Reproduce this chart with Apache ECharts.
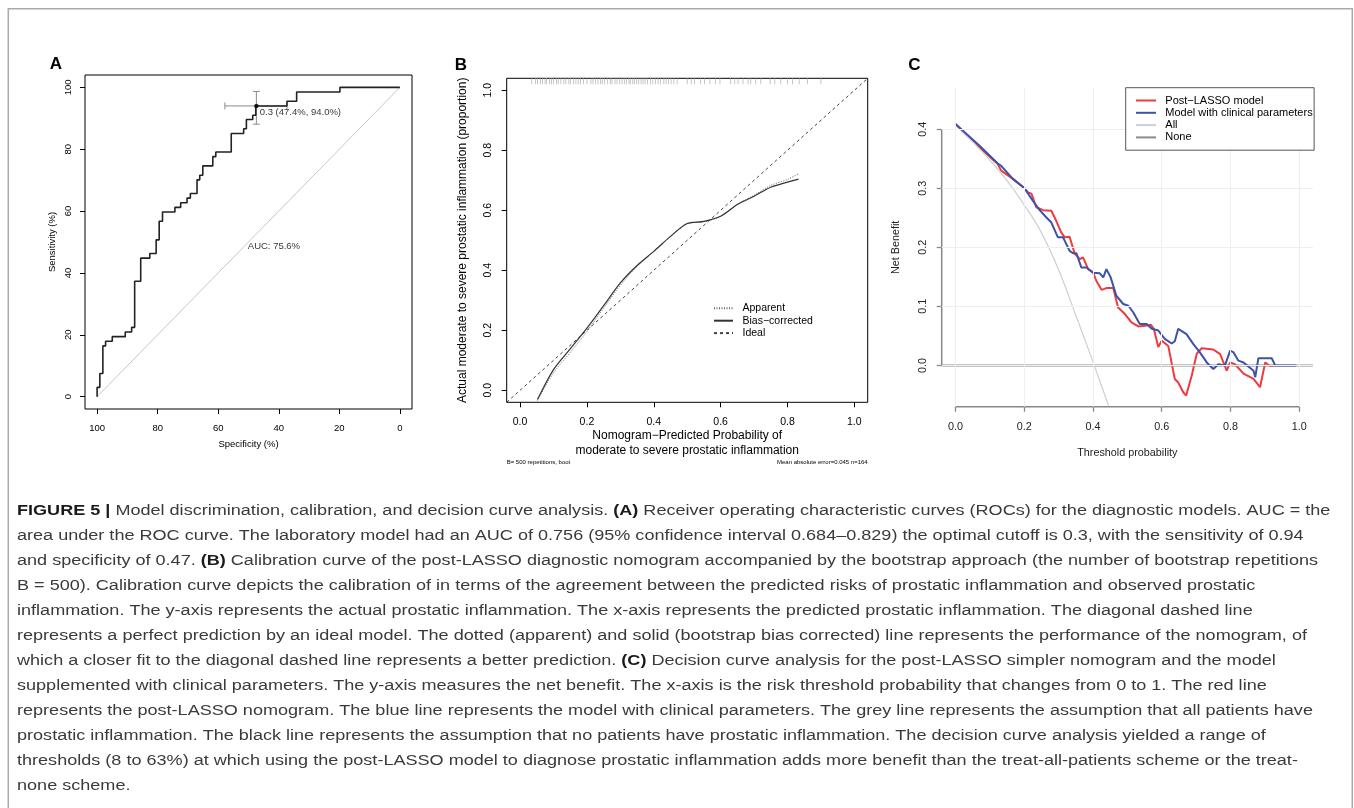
<!DOCTYPE html>
<html><head><meta charset="utf-8">
<script src="https://cdn.jsdelivr.net/npm/echarts@6.0.0/dist/echarts.min.js"></script>
<style>html,body{margin:0;padding:0;background:#fff}#c{width:1354px;height:808px}</style>
</head><body><div id="c"></div>
<script>
// ---------- Panel A: ROC ----------
var rocSpec = [100,100,99.1,99.1,98.1,98.1,97.2,97.2,95.0,95.0,90.7,90.7,88.6,88.6,87.6,87.6,85.6,85.6,82.6,82.6,80.5,80.5,79.5,79.5,78.4,78.4,74.3,74.3,72.4,72.4,70.3,70.3,69.2,69.2,67.0,67.0,66.1,66.1,65.1,65.1,61.8,61.8,60.8,60.8,55.7,55.7,51.6,51.6,50.7,50.7,48.6,48.6,47.6,47.6,37.3,37.3,34.1,34.1,19.8,19.8,0];
var rocSens = [0,3.0,3.0,7.5,7.5,16.4,16.4,17.9,17.9,19.4,19.4,20.9,20.9,22.4,22.4,37.3,37.3,44.8,44.8,46.3,46.3,50.7,50.7,56.7,56.7,59.7,59.7,61.2,61.2,62.7,62.7,64.2,64.2,65.7,65.7,70.1,70.1,71.6,71.6,74.6,74.6,77.6,77.6,79.1,79.1,85.1,85.1,86.6,86.6,89.6,89.6,91.0,91.0,94.0,94.0,95.5,95.5,98.5,98.5,100,100];
var rocDiagSpec = [100, 0];
var rocDiagSens = [0, 100];
var rocBest = {spec: 47.4, sens: 94.0, specLo: 57.8, specHi: 37.3, sensLo: 88.1, sensHi: 98.7};
var rocBestLabel = '0.3 (47.4%, 94.0%)';
var rocBestLabelPos = [46.3, 92.0];
var aucLabel = 'AUC: 75.6%';
var aucLabelPos = [41.6, 48.7];
var aTicks = [0, 20, 40, 60, 80, 100];

// ---------- Panel B: calibration ----------
var calX        = [0.052,0.1,0.15,0.2,0.25,0.3,0.35,0.4,0.45,0.5,0.55,0.6,0.65,0.7,0.75,0.8,0.833];
var calBias     = [-0.031,0.069,0.138,0.207,0.282,0.358,0.416,0.463,0.513,0.556,0.563,0.58,0.619,0.647,0.677,0.694,0.704];
var calApparent = [-0.034,0.058,0.126,0.196,0.274,0.35,0.413,0.463,0.513,0.555,0.562,0.58,0.62,0.65,0.683,0.703,0.722];
var idealX = [-0.04, 1.04];
var rugX = [0.035,0.046,0.052,0.061,0.067,0.075,0.079,0.088,0.094,0.1,0.109,0.114,0.122,0.131,0.137,0.146,0.151,0.16,0.167,0.174,0.181,0.19,0.2,0.212,0.218,0.226,0.233,0.241,0.246,0.253,0.262,0.27,0.275,0.284,0.29,0.298,0.305,0.312,0.318,0.326,0.33,0.337,0.342,0.349,0.355,0.362,0.368,0.374,0.381,0.39,0.397,0.405,0.413,0.42,0.43,0.437,0.444,0.452,0.46,0.47,0.5,0.512,0.522,0.54,0.552,0.568,0.585,0.598,0.63,0.642,0.652,0.667,0.682,0.69,0.705,0.72,0.748,0.762,0.78,0.8,0.815,0.835,0.86,0.9];
var bTicks = [0, 0.2, 0.4, 0.6, 0.8, 1.0];
var bFootLeft = 'B= 500 repetitions, boot';
var bFootRight = 'Mean absolute error=0.045 n=164';

// ---------- Panel C: decision curves ----------
var redT  = [0,0.07,0.123,0.133,0.167,0.201,0.211,0.221,0.235,0.255,0.279,0.293,0.308,0.318,0.332,0.347,0.362,0.371,0.386,0.4,0.41,0.425,0.439,0.459,0.473,0.493,0.512,0.532,0.551,0.568,0.577,0.59,0.6,0.619,0.638,0.648,0.663,0.671,0.687,0.702,0.716,0.75,0.77,0.789,0.799,0.813,0.838,0.867,0.886,0.901,0.915,0.93];
var redNB = [0.409,0.369,0.341,0.33,0.316,0.3,0.293,0.291,0.268,0.263,0.262,0.245,0.225,0.217,0.218,0.189,0.18,0.183,0.163,0.158,0.143,0.128,0.131,0.131,0.098,0.087,0.073,0.066,0.067,0.069,0.062,0.031,0.042,0.033,-0.023,-0.029,-0.046,-0.051,-0.018,0.02,0.029,0.027,0.019,-0.009,0.005,0.002,-0.014,-0.023,-0.037,0.005,-0.001,0];
var blueT  = [0,0.07,0.123,0.133,0.167,0.201,0.225,0.245,0.264,0.279,0.298,0.313,0.332,0.342,0.352,0.366,0.381,0.4,0.42,0.43,0.439,0.451,0.468,0.488,0.503,0.517,0.536,0.556,0.571,0.59,0.609,0.629,0.638,0.648,0.672,0.692,0.711,0.731,0.75,0.765,0.784,0.799,0.809,0.823,0.838,0.852,0.867,0.872,0.881,0.92,0.93,0.991];
var blueNB = [0.409,0.372,0.342,0.338,0.316,0.3,0.279,0.263,0.251,0.242,0.217,0.217,0.194,0.19,0.19,0.166,0.166,0.157,0.156,0.149,0.163,0.15,0.118,0.104,0.101,0.09,0.07,0.07,0.062,0.059,0.045,0.037,0.041,0.062,0.053,0.036,0.022,0.005,-0.006,0.002,0,0.025,0.022,0.008,0.005,-0.002,-0.009,-0.02,0.012,0.012,0,0];
var allT  = [0,0.05,0.1,0.15,0.2,0.25,0.3,0.35,0.4,0.445];
var allNB = [0.409,0.379,0.348,0.313,0.272,0.225,0.162,0.085,0.006,-0.068];
var noneT = [-0.04, 1.04];
var noneNB = [0, 0];
var cXTicks = [0, 0.2, 0.4, 0.6, 0.8, 1.0];
var cYTicks = [0, 0.1, 0.2, 0.3, 0.4];

// ---------- Caption ----------
var captionLines = [
 '{b|FIGURE 5 |} Model discrimination, calibration, and decision curve analysis. {b|(A)} Receiver operating characteristic curves (ROCs) for the diagnostic models. AUC = the',
 'area under the ROC curve. The laboratory model had an AUC of 0.756 (95% confidence interval 0.684\u20130.829) the optimal cutoff is 0.3, with the sensitivity of 0.94',
 'and specificity of 0.47. {b|(B)} Calibration curve of the post-LASSO diagnostic nomogram accompanied by the bootstrap approach (the number of bootstrap repetitions',
 'B = 500). Calibration curve depicts the calibration of in terms of the agreement between the predicted risks of prostatic inflammation and observed prostatic',
 'inflammation. The y-axis represents the actual prostatic inflammation. The x-axis represents the predicted prostatic inflammation. The diagonal dashed line',
 'represents a perfect prediction by an ideal model. The dotted (apparent) and solid (bootstrap bias corrected) line represents the performance of the nomogram, of',
 'which a closer fit to the diagonal dashed line represents a better prediction. {b|(C)} Decision curve analysis for the post-LASSO simpler nomogram and the model',
 'supplemented with clinical parameters. The y-axis measures the net benefit. The x-axis is the risk threshold probability that changes from 0 to 1. The red line',
 'represents the post-LASSO nomogram. The blue line represents the model with clinical parameters. The grey line represents the assumption that all patients have',
 'prostatic inflammation. The black line represents the assumption that no patients have prostatic inflammation. The decision curve analysis yielded a range of',
 'thresholds (8 to 63%) at which using the post-LASSO model to diagnose prostatic inflammation adds more benefit than the treat-all-patients scheme or the treat-',
 'none scheme.'
];

// ================= build =================
var F = "'Liberation Sans', Arial, Helvetica, sans-serif";
var CF = "'Liberation Sans Narrow', 'Liberation Sans', Arial, sans-serif";
var CAP_FS = 15.5;
function zip(a, b) { return a.map(function (v, i) { return [v, b[i]]; }); }

var cv = document.createElement('canvas').getContext('2d');
cv.font = CAP_FS + 'px ' + CF;
var plain3 = captionLines[2].replace(/\{b\|([^}]*)\}/g, '$1');
var capScale = 1300 / cv.measureText(plain3).width;

var chart = echarts.init(document.getElementById('c'), null, {renderer: 'canvas'});

function axisCommon(o) {
  return Object.assign({
    type: 'value', splitLine: {show: false}, axisLine: {show: false, onZero: false},
    nameLocation: 'middle'
  }, o);
}

var A_MIN = -4, A_MAX = 104, B_MIN = -0.04, B_MAX = 1.04;
var CX_MIN = -0.04, CX_MAX = 1.04, CY_MIN = -0.07, CY_MAX = 0.47;

var option = {
  animation: false,
  backgroundColor: '#fff',
  grid: [
    {left: 85, top: 75, width: 327, height: 334, show: true, borderColor: '#000', borderWidth: 1, backgroundColor: 'transparent'},
    {left: 506.7, top: 78.3, width: 361, height: 324, show: true, borderColor: '#000', borderWidth: 1, backgroundColor: 'transparent'},
    {left: 941.7, top: 88, width: 371.3, height: 318.7, show: false}
  ],
  xAxis: [
    axisCommon({gridIndex: 0, min: A_MIN, max: A_MAX, inverse: true,
      axisTick: {customValues: aTicks, length: 5, lineStyle: {color: '#000'}},
      axisLabel: {customValues: aTicks, margin: 14, fontSize: 9.5, color: '#000', fontFamily: F},
      name: 'Specificity (%)', nameGap: 30, nameTextStyle: {fontSize: 9.5, color: '#000', fontFamily: F}}),
    axisCommon({gridIndex: 1, min: B_MIN, max: B_MAX,
      axisTick: {customValues: bTicks, length: 5, lineStyle: {color: '#000'}},
      axisLabel: {customValues: bTicks, margin: 14, fontSize: 10.5, color: '#000', fontFamily: F, formatter: function (v) { return v.toFixed(1); }},
      name: 'Nomogram\u2212Predicted Probability of\nmoderate to severe prostatic inflammation', nameGap: 22,
      nameTextStyle: {fontSize: 12, lineHeight: 15, color: '#000', fontFamily: F}}),
    axisCommon({gridIndex: 2, min: CX_MIN, max: CX_MAX,
      axisTick: {customValues: cXTicks, length: 5, lineStyle: {color: '#888', width: 1.3}},
      axisLabel: {customValues: cXTicks, margin: 14.5, fontSize: 10.8, color: '#222', fontFamily: F, formatter: function (v) { return v.toFixed(1); }},
      name: 'Threshold probability', nameGap: 41, nameTextStyle: {fontSize: 10.8, color: '#222', fontFamily: F}})
  ],
  yAxis: [
    axisCommon({gridIndex: 0, min: A_MIN, max: A_MAX,
      axisTick: {customValues: aTicks, length: 5, lineStyle: {color: '#000'}},
      axisLabel: {customValues: aTicks, margin: 12, rotate: 90, fontSize: 9.5, color: '#000', fontFamily: F},
      name: 'Sensitivity (%)', nameGap: 28, nameTextStyle: {fontSize: 9.5, color: '#000', fontFamily: F}}),
    axisCommon({gridIndex: 1, min: B_MIN, max: B_MAX,
      axisTick: {customValues: bTicks, length: 5, lineStyle: {color: '#000'}},
      axisLabel: {customValues: bTicks, margin: 13, rotate: 90, fontSize: 10.5, color: '#000', fontFamily: F, formatter: function (v) { return v.toFixed(1); }},
      name: 'Actual moderate to severe prostatic inflammation (proportion)', nameGap: 38, nameTextStyle: {fontSize: 12, color: '#000', fontFamily: F}}),
    axisCommon({gridIndex: 2, min: CY_MIN, max: CY_MAX,
      axisTick: {customValues: cYTicks, length: 5, lineStyle: {color: '#888', width: 1.3}},
      axisLabel: {customValues: cYTicks, margin: 13.5, rotate: 90, fontSize: 10.8, color: '#222', fontFamily: F, formatter: function (v) { return v.toFixed(1); }},
      name: 'Net Benefit', nameGap: 40, nameTextStyle: {fontSize: 10.8, color: '#222', fontFamily: F}})
  ],
  legend: [
    {data: ['Apparent', 'Bias\u2212corrected', 'Ideal'], orient: 'vertical', left: 713, top: 302.3, padding: 0, z: 50,
     itemWidth: 19, itemHeight: 10, itemGap: 0.4, selectedMode: false,
     itemStyle: {opacity: 0, borderWidth: 0},
     textStyle: {fontSize: 10.5, lineHeight: 12, color: '#000', fontFamily: F, padding: [0, 0, 0, 4.5]}},
    {data: ['Post\u2212LASSO model', 'Model with clinical parameters', 'All', 'None'], orient: 'vertical', left: 1125.7, top: 87.7, z: 50,
     padding: [6.8, 1.5, 6.8, 9.3], borderColor: '#555', borderWidth: 1, backgroundColor: '#fff', borderRadius: 0,
     itemWidth: 20, itemHeight: 10, itemGap: 0.3, selectedMode: false,
     itemStyle: {opacity: 0, borderWidth: 0},
     textStyle: {fontSize: 11, lineHeight: 12, color: '#000', fontFamily: F, padding: [0, 0, 0, 4.3]}}
  ],
  series: [
    // ---- A ----
    {type: 'line', name: 'diag', xAxisIndex: 0, yAxisIndex: 0, data: zip(rocDiagSpec, rocDiagSens), symbol: 'none',
     lineStyle: {color: '#c8c8c8', width: 1}, silent: true},
    {type: 'line', name: 'ROC', xAxisIndex: 0, yAxisIndex: 0, data: zip(rocSpec, rocSens), symbol: 'none',
     lineStyle: {color: '#222', width: 1.6}, silent: true},
    {type: 'custom', name: 'ci', xAxisIndex: 0, yAxisIndex: 0, silent: true,
     data: [[rocBest.specLo, rocBest.specHi, rocBest.sensLo, rocBest.sensHi, rocBest.spec, rocBest.sens]],
     encode: {x: [0, 1, 4], y: [2, 3, 5]},
     renderItem: function (params, api) {
       var x = api.value(4), y = api.value(5);
       var pL = api.coord([api.value(0), y]), pR = api.coord([api.value(1), y]);
       var pB = api.coord([x, api.value(2)]), pT = api.coord([x, api.value(3)]);
       var c = 3.5, st = {stroke: '#8a8a8a', lineWidth: 1};
       return {type: 'group', children: [
         {type: 'line', shape: {x1: pL[0], y1: pL[1], x2: pR[0], y2: pR[1]}, style: st},
         {type: 'line', shape: {x1: pL[0], y1: pL[1] - c, x2: pL[0], y2: pL[1] + c}, style: st},
         {type: 'line', shape: {x1: pR[0], y1: pR[1] - c, x2: pR[0], y2: pR[1] + c}, style: st},
         {type: 'line', shape: {x1: pB[0], y1: pB[1], x2: pT[0], y2: pT[1]}, style: st},
         {type: 'line', shape: {x1: pB[0] - c, y1: pB[1], x2: pB[0] + c, y2: pB[1]}, style: st},
         {type: 'line', shape: {x1: pT[0] - c, y1: pT[1], x2: pT[0] + c, y2: pT[1]}, style: st}
       ]};
     }},
    {type: 'scatter', name: 'best', xAxisIndex: 0, yAxisIndex: 0, data: [[rocBest.spec, rocBest.sens]], symbolSize: 4.5,
     itemStyle: {color: '#000'}, silent: true, z: 5},
    {type: 'scatter', name: 'lblA', xAxisIndex: 0, yAxisIndex: 0, symbolSize: 0, silent: true,
     data: [{value: rocBestLabelPos, label: {formatter: rocBestLabel, align: 'left'}}, {value: aucLabelPos, label: {formatter: aucLabel, align: 'center'}}],
     label: {show: true, position: 'inside', verticalAlign: 'middle', fontSize: 9.5, color: '#000', fontFamily: F}},
    // ---- B ----
    {type: 'scatter', name: 'rug', xAxisIndex: 1, yAxisIndex: 1, data: rugX.map(function (v) { return [v, B_MAX - 0.01]; }),
     symbol: 'rect', symbolSize: [0.9, 6], itemStyle: {color: '#b0b0b0'}, silent: true},
    {type: 'line', name: 'Ideal', xAxisIndex: 1, yAxisIndex: 1, data: zip(idealX, idealX), symbol: 'none', color: '#444',
     lineStyle: {color: '#444', width: 1, type: [3, 3]}, silent: true},
    {type: 'line', name: 'Apparent', xAxisIndex: 1, yAxisIndex: 1, data: zip(calX, calApparent), symbol: 'none', smooth: 0.3, color: '#666',
     lineStyle: {color: '#666', width: 1, type: [1, 1.5]}, silent: true},
    {type: 'line', name: 'Bias\u2212corrected', xAxisIndex: 1, yAxisIndex: 1, data: zip(calX, calBias), symbol: 'none', smooth: 0.3, color: '#333',
     lineStyle: {color: '#333', width: 1.2}, silent: true},
    // ---- C ----
    {type: 'line', name: 'gridC', xAxisIndex: 2, yAxisIndex: 2, data: [[0, 0]], symbol: 'none', lineStyle: {opacity: 0}, silent: true, z: 0,
     markLine: {symbol: 'none', silent: true, label: {show: false}, animation: false,
       lineStyle: {color: '#efefef', type: 'solid', width: 1},
       data: cXTicks.map(function (v) { return {xAxis: v}; }).concat(cYTicks.map(function (v) { return {yAxis: v}; }))}},
    {type: 'line', name: 'axisCL', xAxisIndex: 2, yAxisIndex: 2, data: [[CX_MIN, cYTicks[0]], [CX_MIN, cYTicks[cYTicks.length - 1]]],
     symbol: 'none', clip: false, lineStyle: {color: '#888', width: 1.5}, silent: true},
    {type: 'line', name: 'axisCB', xAxisIndex: 2, yAxisIndex: 2, data: [[cXTicks[0], CY_MIN], [cXTicks[cXTicks.length - 1], CY_MIN]],
     symbol: 'none', clip: false, lineStyle: {color: '#888', width: 1.5}, silent: true},
    {type: 'line', name: 'None', xAxisIndex: 2, yAxisIndex: 2, data: zip(noneT, noneNB), symbol: 'none',
     lineStyle: {color: '#8a8a8a', width: 2}, color: '#8a8a8a', silent: true},
    {type: 'line', name: 'All', xAxisIndex: 2, yAxisIndex: 2, data: zip(allT, allNB), symbol: 'none', smooth: 0.4,
     lineStyle: {color: '#cfcfcf', width: 1.2}, color: '#cfcfcf', silent: true},
    {type: 'line', name: 'Model with clinical parameters', xAxisIndex: 2, yAxisIndex: 2, data: zip(blueT, blueNB), symbol: 'none',
     lineStyle: {color: '#3d52a8', width: 2}, color: '#3d52a8', silent: true, z: 3},
    {type: 'line', name: 'Post\u2212LASSO model', xAxisIndex: 2, yAxisIndex: 2, data: zip(redT, redNB), symbol: 'none',
     lineStyle: {color: '#ef3b3f', width: 2}, color: '#ef3b3f', silent: true, z: 2}
  ],
  graphic: {elements: [
    {type: 'rect', shape: {x: 8.3, y: 8.7, width: 1344, height: 900}, style: {fill: 'none', stroke: '#aaa', lineWidth: 1.5}, silent: true},
    {type: 'text', x: 56, y: 64.5, style: {text: 'A', font: 'bold 17px ' + F, fill: '#000', align: 'center', verticalAlign: 'middle'}},
    {type: 'text', x: 461, y: 65, style: {text: 'B', font: 'bold 17px ' + F, fill: '#000', align: 'center', verticalAlign: 'middle'}},
    {type: 'text', x: 914.5, y: 65, style: {text: 'C', font: 'bold 17px ' + F, fill: '#000', align: 'center', verticalAlign: 'middle'}},
    {type: 'text', x: 506.7, y: 462.3, style: {text: bFootLeft, fontSize: 6, fontFamily: F, fill: '#000', align: 'left', verticalAlign: 'middle'}},
    {type: 'text', x: 867.7, y: 462.3, style: {text: bFootRight, fontSize: 6, fontFamily: F, fill: '#000', align: 'right', verticalAlign: 'middle'}}
  ].concat(captionLines.map(function (t, i) {
    return {type: 'text', x: 17, y: 511 + 25 * i, scaleX: capScale, scaleY: 1,
      style: {text: t, fontSize: CAP_FS, fontFamily: CF, fill: '#3a3a3a', align: 'left', verticalAlign: 'middle',
        rich: {b: {fontSize: CAP_FS, fontFamily: CF, fontWeight: 'bold', fill: '#1a1a1a'}}}};
  }))}
};
chart.setOption(option);
</script></body></html>
